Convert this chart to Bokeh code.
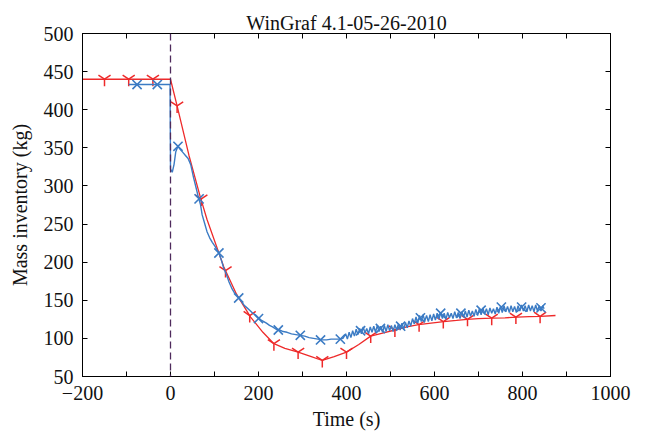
from bokeh.plotting import figure
from bokeh.models import LinearAxis, FixedTicker, Span
from bokeh.embed import file_html
from bokeh.resources import INLINE

# ---------------- data ----------------
title_text = "WinGraf 4.1-05-26-2010"
x_label = "Time (s)"
y_label = "Mass inventory (kg)"

x_ticks = [-200, 0, 200, 400, 600, 800, 1000]
x_tick_labels = ["\u2212200", "0", "200", "400", "600", "800", "1000"]
x_minor_ticks = [-100, 100, 300, 500, 700, 900]
y_ticks = [50, 100, 150, 200, 250, 300, 350, 400, 450, 500]

event_time = [0]

# red series (line with Y markers)
red_t = [-200, 0, 15, 42, 67, 83, 121, 150, 182, 210, 235, 260, 290, 320, 345, 372,
         400, 428, 455, 482, 510, 537, 564, 592, 621, 650, 674, 700, 731, 760, 788,
         815, 841, 875]
red_v = [440, 440, 405, 340, 287, 256, 194, 158, 128, 108, 93, 87, 82, 76, 71, 76,
         82, 92, 103, 107, 111, 115, 118, 120, 122, 123.5, 125, 126, 126.5, 127, 128,
         128.5, 129, 130]
red_mark_t = [-150, -95, -40, 15, 70, 125, 180, 235, 290, 345, 400, 455, 510, 565,
              620, 675, 730, 785, 840]
red_mark_v = [440, 440, 440, 405, 283, 189, 130, 93, 82, 71, 82, 103, 111, 118,
              122, 125, 126.5, 128, 129]

# blue series (measured, noisy line with X markers)
blue_t_early = [-95, -1, 0, 4, 8, 12, 17, 22, 28, 34,
                40, 46, 52, 58, 63, 68, 72, 78, 83, 89,
                95, 102, 110, 116, 121, 127, 133, 139, 145, 150,
                155, 162, 168, 174, 180, 187, 193, 200, 206, 212,
                218, 225, 232, 240, 248, 256, 265, 275, 285, 295,
                305, 315, 325, 335, 345, 355, 365, 375, 385, 392]
blue_v_early = [433, 433, 322, 318, 328, 345, 352, 348, 344, 340,
                336, 328, 312, 298, 286, 276, 262, 250, 240, 232,
                226, 220, 212, 202, 192, 184, 174, 166, 160, 157,
                153, 148, 143, 140, 137, 133, 131, 127, 124, 122,
                120, 117, 115, 112, 111, 109, 108, 106, 105, 104,
                103, 101, 100, 99, 98, 98, 99, 99, 99, 100]
blue_t_late = [398, 402, 406, 410, 414, 418, 422, 426, 430, 434,
               438, 442, 446, 450, 454, 458, 462, 466, 470, 474,
               478, 482, 486, 490, 494, 498, 502, 506, 510, 514,
               518, 522, 526, 530, 534, 538, 542, 546, 550, 554,
               558, 562, 566, 570, 574, 578, 582, 586, 590, 594,
               598, 602, 606, 610, 614, 618, 622, 626, 630, 634,
               638, 642, 646, 650, 654, 658, 662, 666, 670, 674,
               678, 682, 686, 690, 694, 698, 702, 706, 710, 714,
               718, 722, 726, 730, 734, 738, 742, 746, 750, 754,
               758, 762, 766, 770, 774, 778, 782, 786, 790, 794,
               798, 802, 806, 810, 814, 818, 822, 826, 830, 834,
               838, 842, 846, 849]
blue_v_late = [106, 99, 108, 101, 110, 103, 112, 105, 113, 106,
               115, 107, 113, 106, 115, 108, 116, 108, 117, 109,
               116, 108, 117, 109, 118, 110, 117, 109, 118, 111,
               119, 111, 120, 112, 121, 114, 123, 116, 126, 119,
               128, 120, 130, 122, 131, 123, 130, 122, 131, 123,
               132, 124, 133, 125, 134, 126, 133, 125, 134, 127,
               133, 126, 135, 127, 134, 126, 135, 128, 136, 128,
               137, 129, 136, 129, 138, 130, 139, 131, 140, 132,
               139, 131, 140, 133, 139, 132, 141, 133, 142, 134,
               143, 135, 142, 134, 143, 135, 142, 134, 143, 136,
               144, 136, 143, 135, 144, 136, 143, 135, 144, 136,
               143, 136, 143, 139]
blue_mark_t = [-76, -30, 17, 65, 110, 155, 200, 245, 295, 341, 386, 432, 477, 523, 568,
               614, 660, 706, 752, 798, 842]
blue_mark_v = [433, 433, 352, 283, 212, 153, 126, 111, 104, 98, 99, 110, 113, 116, 127,
               133, 133, 137, 141, 141, 140]

blue_t = blue_t_early + blue_t_late
blue_v = blue_v_early + blue_v_late

# ---------------- styles ----------------
FONT = "Liberation Serif"
RED = "#ee2a2a"
BLUE = "#3b7bc4"
DASH_COLOR = "#4e2a5c"
TXT = "#111111"
FS = "20px"

p = figure(width=646, height=440, output_backend="svg", toolbar_location=None,
           x_range=(-200, 1000), y_range=(50, 500),
           frame_width=528, frame_height=343,
           min_border_left=82, min_border_right=36, min_border_top=33, min_border_bottom=64,
           x_axis_label=x_label, y_axis_label=y_label, title=title_text)

p.background_fill_color = "white"
p.border_fill_color = "white"
p.grid.visible = False
p.outline_line_color = "black"
p.outline_line_width = 1

p.title.align = "center"
p.title.text_font = FONT
p.title.text_font_size = FS
p.title.text_font_style = "normal"
p.title.text_color = TXT
p.title.standoff = 0

for ax in (p.xaxis[0], p.yaxis[0]):
    ax.axis_label_text_font = FONT
    ax.axis_label_text_font_size = FS
    ax.axis_label_text_font_style = "normal"
    ax.axis_label_text_color = TXT
    ax.major_label_text_font = FONT
    ax.major_label_text_font_size = FS
    ax.major_label_text_color = TXT
    ax.major_tick_in = 5
    ax.major_tick_out = 0
    ax.minor_tick_in = 5
    ax.minor_tick_out = 0
    ax.axis_line_color = "black"
    ax.major_tick_line_color = "black"
    ax.minor_tick_line_color = "black"

p.xaxis[0].ticker = FixedTicker(ticks=x_ticks, minor_ticks=x_minor_ticks)
p.xaxis[0].major_label_overrides = {t: l for t, l in zip(x_ticks, x_tick_labels)}
p.yaxis[0].ticker = FixedTicker(ticks=y_ticks, minor_ticks=[])
p.xaxis[0].major_label_standoff = 9
p.yaxis[0].major_label_standoff = 9
p.xaxis[0].axis_label_standoff = 5
p.yaxis[0].axis_label_standoff = 10

# top / right axes with inward ticks, labels not painted
top = LinearAxis(ticker=FixedTicker(ticks=x_ticks, minor_ticks=x_minor_ticks),
                 major_tick_in=5, major_tick_out=0, minor_tick_in=5, minor_tick_out=0,
                 major_tick_line_color="black", minor_tick_line_color="black",
                 major_label_text_color=None, major_label_text_font_size="1px",
                 major_label_standoff=0, axis_line_color="black")
right = LinearAxis(ticker=FixedTicker(ticks=y_ticks, minor_ticks=[]),
                   major_tick_in=5, major_tick_out=0, minor_tick_line_color=None,
                   major_label_text_color=None, major_label_text_font_size="1px",
                   major_label_standoff=0, axis_line_color="black")
p.add_layout(top, "above")
p.add_layout(right, "right")

# dashed event line
for t0 in event_time:
    p.add_layout(Span(location=t0, dimension="height", line_color=DASH_COLOR,
                      line_dash="7 4", line_width=1.3))

# series
p.line(red_t, red_v, line_color=RED, line_width=1.3)
p.scatter(red_mark_t, red_mark_v, marker="y", size=14, line_color=RED, line_width=1.5)
p.line(blue_t, blue_v, line_color=BLUE, line_width=1.4)
p.scatter(blue_mark_t, blue_mark_v, marker="x", size=13, line_color=BLUE, line_width=1.6)

open("out.html", "w").write(file_html(p, INLINE))
